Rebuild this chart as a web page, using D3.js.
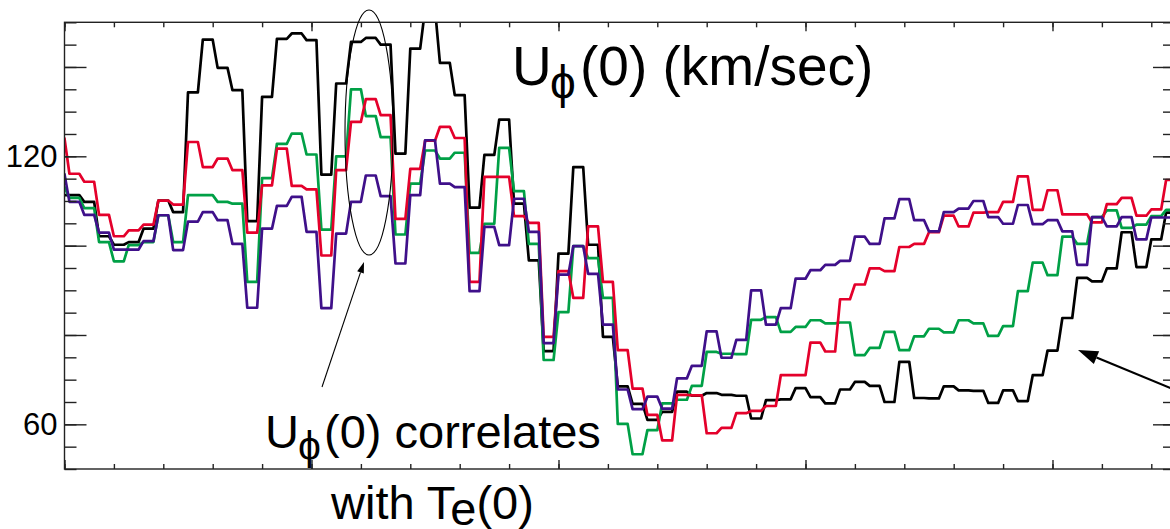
<!DOCTYPE html>
<html>
<head>
<meta charset="utf-8">
<script src="https://cdn.jsdelivr.net/npm/d3@7"></script>
<style>
  body { margin: 0; background: #fff; }
  svg { display: block; }
  text { font-family: "Liberation Sans", Arial, Helvetica, sans-serif; fill: #000; }
</style>
</head>
<body>
<div id="chart-area"></div>
<script>
// U_phi(0) in km/sec, one value per sample (sample spacing 0.3 x-units, first sample at -0.1)
const blackU = [111.3,111.3,109.8,102.1,100.2,100.8,103.8,110.1,107.5,134.3,
                146.1,139.8,134.8,105.5,133.3,146.3,147.5,146.0,115.9,136.3,
                145.6,146.5,145.0,120.6,144.1,153.0,140.9,133.7,108.5,120.3,
                128.2,109.4,96.7,76.4,98.2,117.6,100.2,79.6,68.5,64.6,
                61.0,62.8,67.3,66.4,67.0,66.6,66.4,61.3,65.4,65.6,
                68.1,66.1,64.7,67.8,69.5,68.6,65.0,74.0,65.9,65.8,
                68.5,67.6,67.5,64.8,67.6,65.2,71.0,76.5,83.8,92.8,
                92.0,94.9,103.0,95.2,101.4,107.4];

const redU = [124.0,116.1,114.3,106.9,102.1,103.4,104.7,110.1,109.2,123.2,
              117.6,119.5,116.9,102.9,113.5,121.7,113.4,112.6,97.8,116.9,
              127.7,132.8,129.2,106.0,117.2,123.5,126.6,124.1,91.9,115.4,
              115.4,106.6,105.1,79.6,94.3,88.3,104.3,91.9,76.6,68.0,
              62.1,56.4,66.6,66.5,58.0,59.2,62.5,63.0,64.1,71.0,
              71.0,78.3,76.3,88.0,91.3,94.9,94.3,99.7,100.4,103.0,
              106.7,104.3,107.4,107.5,109.8,115.5,108.0,112.4,107.0,107.0,
              105.2,109.3,110.7,106.7,108.1,114.7];

const greenU = [113.1,110.7,108.4,100.8,96.5,100.1,100.8,106.8,100.8,111.3,
                111.3,109.8,109.4,91.9,115.1,122.8,125.1,120.4,103.6,120.0,
                135.0,129.0,124.3,102.5,113.9,121.3,119.5,120.8,98.4,104.9,
                121.9,112.2,100.4,74.4,85.1,99.9,97.2,88.3,60.1,53.3,
                58.7,64.7,65.5,68.6,76.2,75.8,75.7,83.4,84.0,80.7,
                81.8,83.3,82.6,82.8,75.5,77.1,80.7,76.6,79.7,81.4,
                80.6,83.3,82.6,79.8,82.0,89.8,96.2,93.4,102.0,100.4,
                106.4,107.9,104.0,104.7,106.6,108.0];

const purpleU = [116.0,109.8,106.9,102.9,99.1,99.1,101.0,106.8,99.0,105.4,
                 107.5,105.7,100.4,86.1,103.8,108.9,110.9,103.1,86.0,102.7,
                 109.8,115.7,111.1,96.0,111.3,123.6,113.9,113.1,89.8,104.2,
                 100.1,110.5,103.1,78.2,93.5,99.9,93.7,82.3,67.8,63.4,
                 66.2,63.5,70.3,73.1,80.8,74.9,78.9,90.0,82.3,86.0,
                 92.6,94.5,95.7,96.6,102.0,100.4,106.1,110.4,105.7,103.2,
                 107.5,108.3,110.0,106.4,104.9,109.1,104.8,105.7,103.2,95.7,
                 106.4,104.3,106.4,101.4,106.3,106.3];

const yLabels = [60, 120];
const yMajor = [60, 80, 100, 120, 140];
const yMinor = d3.range(50, 151, 5);
const xMajor = [0, 5, 10, 15, 20];
const xMinor = d3.range(0, 23, 1);

const tStart = -0.1;
const tStep = 0.3;

const w = 1170;
const h = 529;
const plotLeft = 64.5, plotRight = 1175, plotTop = 22.3, plotBottom = 469;

const xScale = d3.scaleLinear().domain([0, 22.48]).range([plotLeft, plotRight]);
const yScale = d3.scaleLinear().domain([50, 150]).range([plotBottom, plotTop]);

const svg = d3.select("#chart-area")
    .append("svg")
    .attr("width", w)
    .attr("height", h);

svg.append("rect").attr("width", w).attr("height", h).attr("fill", "#fff");

svg.append("defs").append("clipPath")
    .attr("id", "plot-clip")
    .append("rect")
    .attr("x", plotLeft).attr("y", plotTop)
    .attr("width", plotRight - plotLeft).attr("height", plotBottom - plotTop);

// each sample is held flat for a short run, then joined to the next one
const flat = 0.1;
const toPoints = (vals) => vals.flatMap((v, i) => {
    const t = tStart + i * tStep;
    return [{ t: t - flat, v: v }, { t: t + flat, v: v }];
});

const line = d3.line()
    .x(d => xScale(d.t))
    .y(d => yScale(d.v));

const series = [
    { name: "black", color: "#000000", values: blackU },
    { name: "green", color: "#00a046", values: greenU },
    { name: "red", color: "#e4002b", values: redU },
    { name: "purple", color: "#3f108a", values: purpleU }
];

svg.append("g")
    .attr("clip-path", "url(#plot-clip)")
    .selectAll("path")
    .data(series)
    .enter()
    .append("path")
    .attr("d", d => line(toPoints(d.values)))
    .attr("fill", "none")
    .attr("stroke", d => d.color)
    .attr("stroke-width", 2.7)
    .attr("stroke-linejoin", "round");

// axes: inward ticks on all four sides
const axisColor = "#222";
const styleAxis = (g) => {
    g.select(".domain").remove();
    g.selectAll(".tick line").attr("stroke", axisColor).attr("stroke-width", 1.4);
};

const addAxis = (axis, tx, ty) => svg.append("g")
    .attr("transform", "translate(" + tx + "," + ty + ")")
    .call(axis)
    .call(styleAxis);

addAxis(d3.axisBottom(xScale).tickValues(xMinor).tickSize(-5).tickFormat(""), 0, plotBottom);
addAxis(d3.axisBottom(xScale).tickValues(xMajor).tickSize(-9).tickFormat(""), 0, plotBottom);
addAxis(d3.axisTop(xScale).tickValues(xMinor).tickSize(-5).tickFormat(""), 0, plotTop);
addAxis(d3.axisTop(xScale).tickValues(xMajor).tickSize(-9).tickFormat(""), 0, plotTop);
addAxis(d3.axisLeft(yScale).tickValues(yMinor).tickSize(-12).tickFormat(""), plotLeft, 0);
addAxis(d3.axisRight(yScale).tickValues(yMinor).tickSize(-12).tickFormat(""), plotRight, 0);
addAxis(d3.axisRight(yScale).tickValues(yMajor).tickSize(-22).tickFormat(""), plotRight, 0);

const yAxis = addAxis(d3.axisLeft(yScale).tickValues(yMajor).tickSize(-22).tickPadding(7)
    .tickFormat(d => yLabels.includes(d) ? d : ""), plotLeft, 0);
yAxis.selectAll(".tick text")
    .attr("font-size", 31)
    .attr("font-family", "Liberation Sans, Arial, sans-serif")
    .attr("fill", "#000");

svg.append("rect")
    .attr("x", plotLeft).attr("y", plotTop)
    .attr("width", plotRight - plotLeft).attr("height", plotBottom - plotTop)
    .attr("fill", "none")
    .attr("stroke", axisColor)
    .attr("stroke-width", 1.4);

// annotations
const title = svg.append("text").attr("x", 512).attr("y", 85).attr("font-size", 55);
title.append("tspan").text("U");
title.append("tspan").attr("x", 550).attr("dy", 13).attr("font-size", 46).text("\u03D5");
title.append("tspan").attr("x", 580).attr("dy", -13).text("(0) (km/sec)");

const note1 = svg.append("text").attr("x", 265).attr("y", 448).attr("font-size", 47);
note1.append("tspan").text("U");
note1.append("tspan").attr("x", 298).attr("dy", 12).attr("font-size", 41).text("\u03D5");
note1.append("tspan").attr("x", 324).attr("dy", -12).text("(0) correlates");

const note2 = svg.append("text").attr("x", 331).attr("y", 519).attr("font-size", 47);
note2.append("tspan").text("with T");
note2.append("tspan").attr("dy", 6).attr("font-size", 47).text("e");
note2.append("tspan").attr("dy", -6).text("(0)");

svg.append("ellipse")
    .attr("cx", 369).attr("cy", 132.5)
    .attr("rx", 24).attr("ry", 122.5)
    .attr("fill", "none")
    .attr("stroke", "#000")
    .attr("stroke-width", 1.1);

const arrow = (x1, y1, x2, y2, width, headLen, headHalf) => {
    const dx = x2 - x1, dy = y2 - y1;
    const len = Math.hypot(dx, dy);
    const ux = dx / len, uy = dy / len;
    const bx = x2 - ux * headLen, by = y2 - uy * headLen;
    svg.append("line")
        .attr("x1", x1).attr("y1", y1).attr("x2", bx).attr("y2", by)
        .attr("stroke", "#000").attr("stroke-width", width);
    svg.append("path")
        .attr("d", "M" + x2 + "," + y2 +
            "L" + (bx - uy * headHalf) + "," + (by + ux * headHalf) +
            "L" + (bx + uy * headHalf) + "," + (by - ux * headHalf) + "Z")
        .attr("fill", "#000");
};

arrow(322, 387, 364, 262, 1.1, 11, 3.5);
arrow(1185, 394, 1078, 350, 2.2, 20, 7);
</script>
</body>
</html>
